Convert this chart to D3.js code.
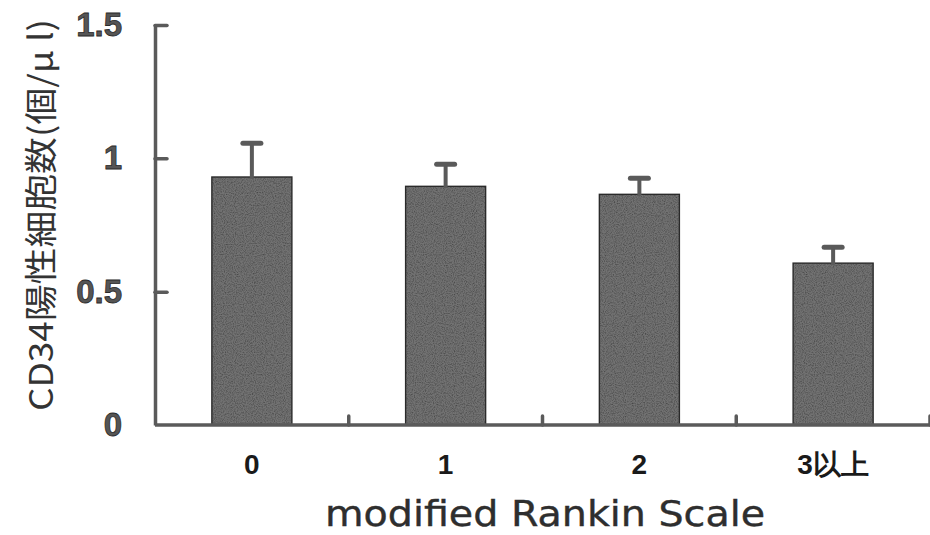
<!DOCTYPE html>
<html>
<head>
<meta charset="utf-8">
<script src="https://cdn.jsdelivr.net/npm/d3@7"></script>
<style>
html,body{margin:0;padding:0;background:#fff;}
svg{display:block;}
</style>
</head>
<body>
<svg id="chart" width="930" height="535"></svg>
<script>
const categories = ["0", "1", "2", "3以上"];
const means = [0.93, 0.895, 0.865, 0.607];
const errors = [0.127, 0.083, 0.06, 0.06];
const yTicks = [0, 0.5, 1, 1.5];
const yTickLabels = ["0", "0.5", "1", "1.5"];
const xTitle = "modified Rankin Scale";
const yTitle = "CD34陽性細胞数(個/μ l)";

const svg = d3.select("#chart");
const axisColor = "#5a5a5a";

// grain texture for the bars
const defs = svg.append("defs");
const f = defs.append("filter").attr("id", "grain").attr("x", 0).attr("y", 0).attr("width", 1).attr("height", 1);
f.append("feTurbulence").attr("type", "fractalNoise").attr("baseFrequency", 0.9).attr("numOctaves", 2).attr("seed", 3).attr("result", "noise");
f.append("feColorMatrix").attr("in", "noise").attr("type", "matrix")
  .attr("values", "0 0 0 0 0  0 0 0 0 0  0 0 0 0 0  0 0 0 -1.2 0.75").attr("result", "dark");
f.append("feComposite").attr("in", "dark").attr("in2", "SourceGraphic").attr("operator", "in").attr("result", "darkIn");
const m = f.append("feMerge");
m.append("feMergeNode").attr("in", "SourceGraphic");
m.append("feMergeNode").attr("in", "darkIn");

const x = d3.scaleBand().domain(categories).range([155, 930]).paddingInner(0.587).paddingOuter(0.2935);
const y = d3.scaleLinear().domain([0, 1.5]).range([425, 25]);

// bars
svg.append("g").selectAll("rect").data(categories).join("rect")
  .attr("x", d => x(d))
  .attr("y", (d, i) => y(means[i]))
  .attr("width", x.bandwidth())
  .attr("height", (d, i) => y(0) - y(means[i]))
  .attr("fill", "#727272")
  .attr("filter", "url(#grain)");
svg.append("g").selectAll("rect").data(categories).join("rect")
  .attr("x", d => x(d))
  .attr("y", (d, i) => y(means[i]))
  .attr("width", x.bandwidth())
  .attr("height", (d, i) => y(0) - y(means[i]))
  .attr("fill", "none")
  .attr("stroke", "#2a2a2a")
  .attr("stroke-width", 1.4);

// error bars
const eg = svg.append("g").attr("stroke", axisColor).attr("stroke-linecap", "round");
eg.selectAll("line.v").data(categories).join("line").attr("class", "v")
  .attr("x1", d => x(d) + x.bandwidth() / 2)
  .attr("x2", d => x(d) + x.bandwidth() / 2)
  .attr("y1", (d, i) => y(means[i]))
  .attr("y2", (d, i) => y(means[i] + errors[i]))
  .attr("stroke-width", 4);
eg.selectAll("line.c").data(categories).join("line").attr("class", "c")
  .attr("x1", d => x(d) + x.bandwidth() / 2 - 9)
  .attr("x2", d => x(d) + x.bandwidth() / 2 + 9)
  .attr("y1", (d, i) => y(means[i] + errors[i]))
  .attr("y2", (d, i) => y(means[i] + errors[i]))
  .attr("stroke-width", 5);

// y axis
const yAxis = d3.axisLeft(y).tickValues(yTicks)
  .tickFormat((d, i) => yTickLabels[i])
  .tickSizeInner(-12).tickSizeOuter(0).tickPadding(33);
const yg = svg.append("g").attr("transform", "translate(155,0)").call(yAxis);
yg.select(".domain").attr("stroke", axisColor).attr("stroke-width", 3.5);
yg.selectAll(".tick line").attr("stroke", axisColor).attr("stroke-width", 3.5).attr("stroke-linecap", "round");
yg.selectAll(".tick text")
  .attr("font-family", "Liberation Sans, Arial, sans-serif")
  .attr("font-weight", "bold")
  .attr("font-size", 33)
  .attr("fill", "#555")
  .attr("stroke", "#2a2a2a")
  .attr("stroke-width", 0.8);
yg.select(".tick:first-of-type line").remove();

// x axis baseline and boundary ticks
svg.append("line")
  .attr("x1", 155).attr("x2", 930)
  .attr("y1", y(0)).attr("y2", y(0))
  .attr("stroke", axisColor).attr("stroke-width", 3.5);
svg.append("g").selectAll("line").data(categories).join("line")
  .attr("x1", d => x(d) + x.step() - x.step() * x.paddingInner() / 2)
  .attr("x2", d => x(d) + x.step() - x.step() * x.paddingInner() / 2)
  .attr("y1", y(0)).attr("y2", y(0) - 9)
  .attr("stroke", axisColor).attr("stroke-width", 3.5).attr("stroke-linecap", "round");

// x labels
const xAxis = d3.axisBottom(x).tickSize(0).tickPadding(32);
const xg = svg.append("g").attr("transform", `translate(0,${y(0)})`).call(xAxis);
xg.select(".domain").remove();
xg.selectAll(".tick text")
  .attr("font-family", "Liberation Sans Narrow, Liberation Sans, Arial, sans-serif")
  .attr("font-weight", "bold")
  .attr("font-size", 28)
  .attr("fill", "#1a1a1a")
  .attr("dy", "0.6em");

// titles
svg.append("text")
  .attr("transform", "translate(545,526) scale(1.1,1)")
  .attr("text-anchor", "middle")
  .attr("font-family", "DejaVu Sans, sans-serif")
  .attr("font-size", 36)
  .attr("fill", "#2e2e2e")
  .attr("stroke", "#2e2e2e")
  .attr("stroke-width", 0.4)
  .text(xTitle);

svg.append("text")
  .attr("transform", "translate(53,215) rotate(-90)")
  .attr("text-anchor", "middle")
  .attr("font-family", "Noto Sans CJK JP, sans-serif")
  .attr("font-size", 33)
  .attr("fill", "#333")
  .attr("textLength", 392)
  .attr("lengthAdjust", "spacingAndGlyphs")
  .text(yTitle);
</script>
</body>
</html>
